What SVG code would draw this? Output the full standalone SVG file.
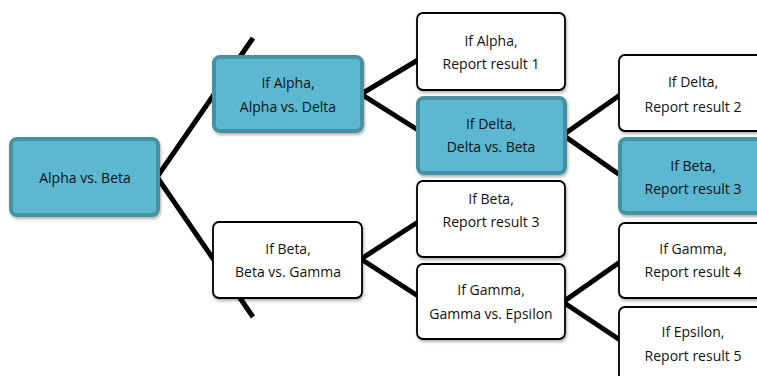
<svg xmlns="http://www.w3.org/2000/svg" width="757" height="376" viewBox="0 0 757 376">
<defs>
<filter id="sh" x="-10%" y="-10%" width="125%" height="130%">
<feDropShadow dx="1" dy="2" stdDeviation="1.5" flood-color="#000" flood-opacity="0.3"/>
</filter>
<style>
.w{fill:#ffffff;stroke:#000;stroke-width:1.8;filter:url(#sh)}
.t{fill:#5bb8d1;stroke:#4591a2;stroke-width:4;filter:url(#sh)}
.c{stroke:#000;stroke-width:5;fill:none;stroke-linejoin:miter}
text{font-family:"Open Sans","Liberation Sans",sans-serif;font-size:14px;fill:#111;text-anchor:middle}
</style>
</defs>
<rect width="757" height="376" fill="#fff"/>
<g id="connectors">
<polyline class="c" points="253,38 157,177 253,317"/>
<polyline class="c" points="418,60 361,94 418,130"/>
<polyline class="c" points="418,222 361,259 418,296"/>
<polyline class="c" points="620,95 563,135 620,175"/>
<polyline class="c" points="620,262 563,302 620,340"/>
</g>
<g id="n1"><rect class="t" x="11" y="139" width="147" height="76" rx="6"/><text x="85" y="183">Alpha vs. Beta</text></g>
<g id="n2"><rect class="t" x="214" y="57" width="148" height="74" rx="6"/><text x="288" y="88">If Alpha,</text><text x="288" y="112">Alpha vs. Delta</text></g>
<g id="n3"><rect class="w" x="213" y="222" width="149" height="76" rx="6"/><text x="288" y="254">If Beta,</text><text x="288" y="277">Beta vs. Gamma</text></g>
<g id="n4"><rect class="w" x="417" y="13" width="148" height="77" rx="6"/><text x="491" y="46">If Alpha,</text><text x="491" y="69">Report result 1</text></g>
<g id="n5"><rect class="t" x="418" y="98" width="147" height="75" rx="6"/><text x="491" y="129">If Delta,</text><text x="491" y="152">Delta vs. Beta</text></g>
<g id="n6"><rect class="w" x="417" y="181" width="148" height="76" rx="6"/><text x="491" y="204">If Beta,</text><text x="491" y="227">Report result 3</text></g>
<g id="n7"><rect class="w" x="417" y="264" width="148" height="75" rx="6"/><text x="491" y="295">If Gamma,</text><text x="491" y="319">Gamma vs. Epsilon</text></g>
<g id="n8"><rect class="w" x="619" y="55" width="150" height="76" rx="6"/><text x="693" y="87">If Delta,</text><text x="693" y="112">Report result 2</text></g>
<g id="n9"><rect class="t" x="620" y="139" width="149" height="74" rx="6"/><text x="693" y="171">If Beta,</text><text x="693" y="194">Report result 3</text></g>
<g id="n10"><rect class="w" x="619" y="223" width="150" height="75" rx="6"/><text x="693" y="254">If Gamma,</text><text x="693" y="277">Report result 4</text></g>
<g id="n11"><rect class="w" x="619" y="307" width="150" height="80" rx="6"/><text x="693" y="337">If Epsilon,</text><text x="693" y="361">Report result 5</text></g>
</svg>
